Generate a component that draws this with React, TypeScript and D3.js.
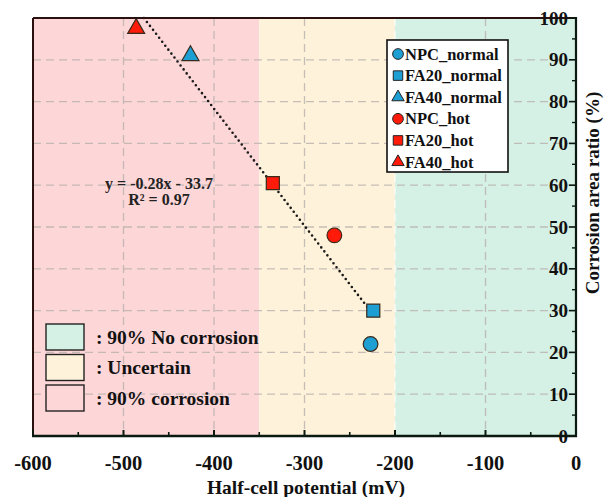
import React from "react";
import * as d3 from "d3";

// ---- data ----
const seriesNames = ["NPC_normal", "FA20_normal", "FA40_normal", "NPC_hot", "FA20_hot", "FA40_hot"];
const potentials = [-227, -224, -426, -267, -335, -486];
const corrosionRatios = [22, 30, 91, 48, 60.5, 97.5];
const seriesShapes = ["circle", "square", "triangle", "circle", "square", "triangle"];
const seriesColors = ["#1e9fd4", "#1e9fd4", "#1e9fd4", "#ff1a0a", "#ff1a0a", "#ff1a0a"];

const xTicks = [-600, -500, -400, -300, -200, -100, 0];
const yTicks = [0, 10, 20, 30, 40, 50, 60, 70, 80, 90, 100];

const zoneFrom = [-600, -350, -200];
const zoneTo = [-350, -200, 0];
const zoneColors = ["#fdd6d8", "#fef3da", "#d5f0e4"];
const zoneLabels = [": 90% corrosion", ": Uncertain", ": 90% No corrosion"];

const trendSlope = -0.28;
const trendIntercept = -33.7;
const trendXRange = [-477.5, -224];
const equationText = "y = -0.28x - 33.7";
const r2Text = "R² = 0.97";

const FONT = "'Liberation Serif', 'Times New Roman', serif";

export default function App() {
  const W = 608, H = 497;
  const left = 33, right = 576, top = 18, bottom = 436;
  const x = d3.scaleLinear().domain([-600, 0]).range([left, right]);
  const y = d3.scaleLinear().domain([0, 100]).range([bottom, top]);

  const sym = (shape: string, size: number) => {
    const t = shape === "circle" ? d3.symbolCircle : shape === "square" ? d3.symbolSquare : d3.symbolTriangle;
    return d3.symbol().type(t).size(size)() as string;
  };
  const sizeFor = (shape: string) => (shape === "circle" ? 170 : shape === "square" ? 170 : 125);
  const legSizeFor = (shape: string) => (shape === "circle" ? 90 : shape === "square" ? 90 : 66);

  const trendLine = d3
    .line<number>()
    .x((v) => x(v))
    .y((v) => y(trendSlope * v + trendIntercept))(trendXRange) as string;

  const gridY = yTicks.filter((t) => t > 0 && t < 100);
  const gridX = xTicks.filter((t) => t > -600 && t < 0);
  const minorX = d3.range(-550, 0, 100);
  const minorY = d3.range(5, 100, 10);

  const legOrder = [2, 1, 0];

  return (
    <svg width={W} height={H} style={{ position: "absolute", left: 0, top: 0, background: "#fff" }} fontFamily={FONT}>
      {zoneFrom.map((f, i) => (
        <rect key={i} x={x(f)} y={top} width={x(zoneTo[i]) - x(f)} height={bottom - top} fill={zoneColors[i]} />
      ))}
      {gridY.map((t) => (
        <line key={"gy" + t} x1={left} x2={right} y1={y(t)} y2={y(t)} stroke="#b8b0ac" strokeOpacity={0.8} strokeWidth={1.3} strokeDasharray="8 5" />
      ))}
      {gridX.map((t) => (
        <line key={"gx" + t} x1={x(t)} x2={x(t)} y1={top} y2={bottom} stroke={t === -200 ? "#ffffff" : "#b8b0ac"} strokeOpacity={0.8} strokeWidth={1.3} strokeDasharray="8 5" />
      ))}

      <path d={trendLine} fill="none" stroke="#1a1a1a" strokeWidth={2.6} strokeDasharray="0 5" strokeLinecap="round" />

      {potentials.map((p, i) => (
        <path
          key={"pt" + i}
          d={sym(seriesShapes[i], sizeFor(seriesShapes[i]))}
          transform={`translate(${x(p)},${y(corrosionRatios[i])})`}
          fill={seriesColors[i]}
          stroke="#3a2a1a"
          strokeWidth={1.2}
        />
      ))}

      <text x={159} y={189} textAnchor="middle" fontSize={16} fontWeight="bold" fill="#222">{equationText}</text>
      <text x={159} y={205} textAnchor="middle" fontSize={16} fontWeight="bold" fill="#222">{r2Text}</text>

      <line x1={left} x2={right} y1={top} y2={top} stroke="#2b1010" strokeWidth={2} />
      <line x1={left} x2={left} y1={top} y2={bottom} stroke="#2b1010" strokeWidth={2} />
      <line x1={right} x2={right} y1={top - 1} y2={bottom + 1} stroke="#0a1a10" strokeWidth={2.2} />
      <line x1={left - 1} x2={right + 1} y1={bottom} y2={bottom} stroke="#0a1a10" strokeWidth={2.5} />

      {xTicks.map((t) => (
        <line key={"xt" + t} x1={x(t)} x2={x(t)} y1={bottom} y2={bottom - 6} stroke="#0a1a10" strokeWidth={2} />
      ))}
      {minorX.map((t) => (
        <line key={"xm" + t} x1={x(t)} x2={x(t)} y1={bottom} y2={bottom - 4} stroke="#0a1a10" strokeWidth={1.6} />
      ))}
      {xTicks.map((t) => (
        <text key={"xl" + t} x={x(t)} y={470} textAnchor="middle" fontSize={20.5} fontWeight="bold" fill="#111">{t}</text>
      ))}
      <text x={306} y={494} textAnchor="middle" fontSize={19.5} fontWeight="bold" fill="#111">Half-cell potential (mV)</text>

      {yTicks.map((t) => (
        <line key={"yt" + t} x1={right} x2={right - 7} y1={y(t)} y2={y(t)} stroke="#0a1a10" strokeWidth={1.6} />
      ))}
      {minorY.map((t) => (
        <line key={"ym" + t} x1={right} x2={right - 4} y1={y(t)} y2={y(t)} stroke="#0a1a10" strokeWidth={1.4} />
      ))}
      {yTicks.map((t) => (
        <text key={"yl" + t} x={568} y={y(t) + 6.5} textAnchor="end" fontSize={19} fontWeight="bold" fill="#111">{t}</text>
      ))}
      <text transform={`translate(599,193) rotate(-90)`} textAnchor="middle" fontSize={19} fontWeight="bold" fill="#111">Corrosion area ratio (%)</text>

      <rect x={387} y={40} width={121} height={132} fill="#fff" stroke="#111" strokeWidth={1.6} />
      {seriesNames.map((n, i) => {
        const cy = 54 + i * 21.6;
        return (
          <g key={"lg" + i}>
            <path d={sym(seriesShapes[i], legSizeFor(seriesShapes[i]))} transform={`translate(398,${cy})`} fill={seriesColors[i]} stroke="#222" strokeWidth={1} />
            <text x={405} y={cy + 5.5} fontSize={16.5} fontWeight="bold" fill="#111">{n}</text>
          </g>
        );
      })}

      {legOrder.map((zi, k) => {
        const by = 324 + k * 30.5;
        return (
          <g key={"zl" + zi}>
            <rect x={46} y={by} width={38} height={26} fill={zoneColors[zi]} stroke="#222" strokeWidth={1.4} />
            <text x={96} y={by + 19.5} fontSize={19.5} fontWeight="bold" fill="#111">{zoneLabels[zi]}</text>
          </g>
        );
      })}
    </svg>
  );
}
